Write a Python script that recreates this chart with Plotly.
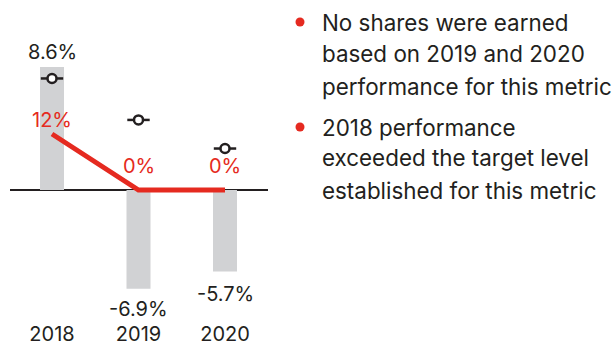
import plotly.graph_objects as go

# Data
years = ["2018", "2019", "2020"]
performance = [8.6, -6.9, -5.7]        # grey bars, % result
target = [7.8, 4.9, 2.9]               # target markers, %
payout = [12, 0, 0]                    # red line, % of shares earned
notes = [
    ["No shares were earned", "based on 2019 and 2020", "performance for this metric"],
    ["2018 performance", "exceeded the target level", "established for this metric"],
]

W, H = 616, 344
FONT = "Inter"
INK = "#231f20"
RED = "#e52a20"
GREY = "#d1d2d4"

# pixel layout of the plotting region
X0_PX, X1_PX = 10, 268
Y_TOP_PX, Y_BOT_PX = 0, 320
ZERO_PX = 190
PX_PER_PCT = 14.3
PX_PER_PAYOUT = 56 / 12

x_idx = list(range(len(years)))
CENTER0_PX, STEP_PX = 52, 86.5
x_range = [(X0_PX - CENTER0_PX) / STEP_PX, (X1_PX - CENTER0_PX) / STEP_PX]
y_range = [-(Y_BOT_PX - ZERO_PX) / PX_PER_PCT, (ZERO_PX - Y_TOP_PX) / PX_PER_PCT]
y2_range = [-(Y_BOT_PX - ZERO_PX) / PX_PER_PAYOUT, (ZERO_PX - Y_TOP_PX) / PX_PER_PAYOUT]


def px_x(px):
    return px / W


def px_y(py):
    return 1 - py / H


fig = go.Figure()

fig.add_trace(go.Bar(
    x=x_idx, y=performance, width=24 / STEP_PX,
    marker=dict(color=GREY, line=dict(width=0)),
    hoverinfo="skip",
))

fig.add_trace(go.Scatter(
    x=x_idx, y=payout, yaxis="y2", mode="lines",
    line=dict(color=RED, width=5),
    hoverinfo="skip",
))

# target marker: horizontal tick with an open ring
fig.add_trace(go.Scatter(
    x=x_idx, y=target, mode="markers",
    marker=dict(symbol="line-ew", size=16, line=dict(color=INK, width=2.5)),
    hoverinfo="skip",
))
fig.add_trace(go.Scatter(
    x=x_idx, y=target, mode="markers",
    marker=dict(symbol="circle", size=9, color="white", line=dict(color=INK, width=2.5)),
    hoverinfo="skip",
))

annotations = []

# performance labels
perf_shift = [1, -6, -8.5]
for i, v in enumerate(performance):
    annotations.append(dict(
        x=i, y=v, xref="x", yref="y", text=f"{v}%", showarrow=False,
        yanchor="bottom" if v >= 0 else "top", yshift=perf_shift[i],
        font=dict(family=FONT, size=20, color=INK),
    ))

# payout labels
pay_shift = [0, 10, 10]
for i, v in enumerate(payout):
    annotations.append(dict(
        x=i, y=v, xref="x", yref="y2", text=f"{v}%", showarrow=False,
        yanchor="bottom", yshift=pay_shift[i],
        font=dict(family=FONT, size=20, color=RED),
    ))

# notes on the right
line_centers = [[22, 53, 86], [127, 158, 190]]
shapes = []
for block, centers in zip(notes, line_centers):
    for txt, cy in zip(block, centers):
        annotations.append(dict(
            x=px_x(320), y=px_y(cy), xref="paper", yref="paper",
            text=txt, showarrow=False, xanchor="left", yanchor="middle",
            font=dict(family=FONT, size=22.4, color=INK),
        ))
    cy = centers[0]
    shapes.append(dict(
        type="circle", xref="paper", yref="paper",
        x0=px_x(300 - 4.5), x1=px_x(300 + 4.5),
        y0=px_y(cy + 4.5), y1=px_y(cy - 4.5),
        fillcolor=RED, line=dict(width=0),
    ))

fig.update_layout(
    width=W, height=H,
    margin=dict(l=0, r=0, t=0, b=0),
    paper_bgcolor="white", plot_bgcolor="white",
    showlegend=False,
    barmode="overlay",
    xaxis=dict(
        domain=[px_x(X0_PX), px_x(X1_PX)], range=x_range,
        tickvals=x_idx, ticktext=years, ticks="",
        showgrid=False, zeroline=False, showline=False,
        tickfont=dict(family=FONT, size=20, color=INK),
        automargin=False, fixedrange=True,
    ),
    yaxis=dict(
        domain=[px_y(Y_BOT_PX), px_y(Y_TOP_PX)], range=y_range,
        showticklabels=False, showgrid=False,
        zeroline=True, zerolinecolor=INK, zerolinewidth=2,
        automargin=False, fixedrange=True,
    ),
    yaxis2=dict(
        overlaying="y", range=y2_range,
        showticklabels=False, showgrid=False, zeroline=False,
        automargin=False, fixedrange=True,
    ),
    annotations=annotations,
    shapes=shapes,
)

fig.write_html("out.html")
